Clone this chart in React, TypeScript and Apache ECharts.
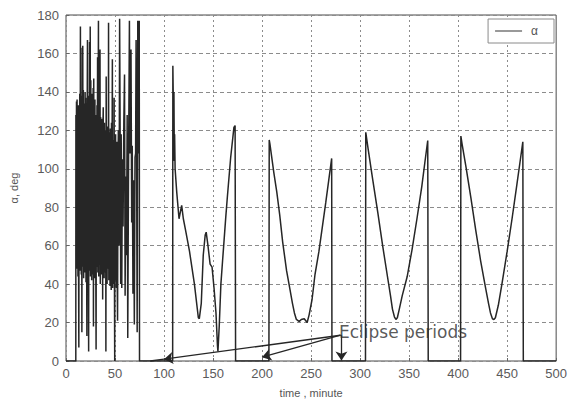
import React, { useEffect, useRef } from "react";
import * as echarts from "echarts";

// Axis ranges / ticks
const xMin = 0;
const xMax = 500;
const xStep = 50;
const yMin = 0;
const yMax = 180;
const yStep = 20;

const seriesName = "α";
const xAxisName = "time , minute";
const yAxisName = "α, deg";
const eclipseLabel = "Eclipse periods";

// Tumbling phase (dense oscillation), [time (min), alpha (deg)]
const alphaTumbling: [number, number][] = [
  [0, 0], [10, 0], [10.1, 128], [10.4, 62], [10.7, 135], [11, 48], [11.3, 136], [11.6, 55], [11.9, 122],
  [12.2, 44], [12.5, 133], [12.8, 52], [13.1, 7], [13.4, 130], [13.7, 58], [14, 139], [14.4, 47],
  [14.7, 174], [15, 52], [15.3, 163], [15.6, 45], [15.9, 138], [16.2, 15], [16.5, 131], [16.8, 56],
  [17.1, 164], [17.4, 49], [17.7, 141], [18, 43], [18.3, 134], [18.6, 57], [18.9, 128], [19.2, 46],
  [19.5, 140], [19.8, 53], [20.1, 137], [20.4, 41], [20.7, 129], [21, 60], [21.3, 13], [21.6, 126],
  [21.9, 167], [22.2, 44], [22.5, 138], [22.8, 52], [23.1, 5], [23.4, 135], [23.7, 47], [24, 166],
  [24.3, 55], [24.7, 174], [25, 44], [25.3, 146], [25.6, 58], [25.9, 132], [26.2, 42], [26.5, 139],
  [26.8, 50], [27.1, 127], [27.4, 45], [27.7, 142], [28, 18], [28.3, 147], [28.6, 50], [28.9, 129],
  [29.2, 43], [29.5, 136], [29.8, 55], [30.1, 124], [30.4, 47], [30.7, 6], [31, 128], [31.3, 49],
  [31.6, 133], [31.9, 52], [32.2, 158], [32.5, 46], [32.8, 131], [33.1, 177], [33.4, 44], [33.7, 125],
  [34, 53], [34.3, 130], [34.7, 162], [35, 40], [35.3, 127], [35.6, 51], [35.9, 121], [36.2, 45],
  [36.5, 126], [36.8, 57], [37.1, 119], [37.4, 32], [37.7, 123], [38, 132], [38.3, 49], [38.6, 118],
  [38.9, 43], [39.2, 124], [39.5, 55], [39.8, 116], [40.1, 46], [40.4, 120], [40.7, 5], [41, 148],
  [41.3, 52], [41.6, 117], [41.9, 40], [42.2, 122], [42.5, 48], [42.8, 113], [43.1, 54], [43.4, 176],
  [43.7, 42], [44, 119], [44.3, 50], [44.6, 112], [44.9, 39], [45.2, 121], [45.5, 53], [45.8, 108],
  [46.1, 37], [46.4, 124], [46.7, 46], [47, 110], [47.3, 157], [47.6, 38], [47.9, 115], [48.2, 44],
  [48.5, 106], [48.8, 40], [49.1, 137], [49.4, 45], [49.7, 0], [50, 112], [50.3, 42], [50.6, 118],
  [50.9, 46], [51.2, 105], [51.5, 38], [51.8, 114], [52.2, 45], [52.6, 21], [53, 98], [53.4, 120],
  [54.1, 60], [54.7, 178], [55.3, 112], [55.8, 40], [56.3, 118], [56.9, 38], [57.5, 105], [58.2, 70],
  [59, 125], [59.7, 149], [60.3, 34], [61, 96], [61.7, 55], [62.4, 128], [63, 12], [63.8, 102],
  [64.7, 177], [65.2, 108], [65.7, 110], [66.3, 162], [67, 72], [67.6, 112], [68.3, 35], [69, 94],
  [69.7, 19], [70.4, 106], [71, 108], [71.5, 167], [72.1, 95], [72.6, 15], [73.2, 177], [73.8, 108],
  [74.3, 110], [74.7, 177], [75, 0],
];

// Controlled phase, [time (min), alpha (deg)]
const alphaControlled: [number, number][] = [
  [108.8, 0], [109, 153.6], [109.8, 122], [110.1, 140], [110.5, 104], [110.8, 118], [111.3, 100],
  [113, 87.6], [115.3, 74], [118, 81], [119.7, 74], [122, 68], [126, 57], [131, 40], [135, 22.5],
  [136, 22], [138, 30], [140, 55], [142, 65.6], [143, 67], [144.7, 60.5], [147, 50.4], [149, 48.8],
  [151, 38], [153, 25], [154.5, 8], [155, 5], [155.5, 10], [156.3, 18], [158, 40], [159.7, 52],
  [163, 75], [164.7, 86], [168, 106], [171.3, 121.5], [172.5, 122.5], [173, 0],
  [207, 0], [207.3, 115], [208, 113], [212, 98], [215, 88], [218, 76], [221, 62], [225, 47],
  [228, 38.6], [231, 30], [233, 25], [235, 21.6], [238, 20.5], [240, 21.6], [243, 22], [246, 20],
  [248, 24], [251, 32], [254, 45], [258, 57], [261, 68], [265, 82.5], [268, 94], [271, 105.4],
  [271.3, 0], [305.5, 0], [305.8, 119], [308, 111], [313, 94], [318, 77.5], [323, 60], [328, 43.7],
  [331, 34], [333, 27], [335, 23], [336.5, 21.6], [338, 22.5], [340, 27], [343, 34], [348, 43.8],
  [353, 58], [358, 74], [363, 91], [366, 103], [369, 114.7], [369.5, 0], [402.5, 0], [402.8, 117],
  [404, 113], [408, 101], [413, 85], [418, 68], [423, 52], [428, 38], [431, 30], [433, 25],
  [435, 22], [436.5, 21.6], [438, 22.5], [441, 29], [445, 41], [450, 57], [455, 74], [460, 92],
  [463, 103], [466, 114], [466.5, 0], [500, 0],
];

// Eclipse annotation: label anchor and arrow targets [time, alpha]
const eclipseAnchor: [number, number] = [280, 13.4];
const eclipseLabelAt: [number, number] = [278.5, 15.2];
const eclipseArrowTargets: [number, number][] = [
  [100, 0.95],
  [200, 2],
  [281, 0.3],
];
const eclipseTail: [number, number] = [86, 0];

const FONT = "'Liberation Sans', Arial, sans-serif";
const INK = "#262626";

export default function App() {
  const ref = useRef<HTMLDivElement>(null);

  useEffect(() => {
    if (!ref.current) return;
    const chart = echarts.init(ref.current, undefined, { renderer: "svg" });

    const arrowLines: any[] = eclipseArrowTargets.map((t, i) => [
      {
        coord: i === 2 ? [t[0], eclipseAnchor[1]] : eclipseAnchor,
        symbol: "none",
      },
      { coord: t, symbol: "arrow" },
    ]);
    arrowLines.push([
      { coord: eclipseArrowTargets[0], symbol: "none" },
      { coord: eclipseTail, symbol: "none" },
    ]);
    arrowLines.push([
      { coord: eclipseAnchor, symbol: "none" },
      { coord: [eclipseArrowTargets[2][0], eclipseAnchor[1]], symbol: "none" },
    ]);

    chart.setOption({
      animation: false,
      backgroundColor: "#ffffff",
      textStyle: { fontFamily: FONT },
      grid: {
        left: 62,
        right: 7,
        top: 15,
        bottom: 34,
        show: true,
        borderColor: "#4a4a4a",
        borderWidth: 1,
        backgroundColor: "transparent",
      },
      legend: {
        data: [{ name: seriesName, icon: "rect" }],
        right: 16,
        top: 19,
        backgroundColor: "#ffffff",
        borderColor: "#8a8a8a",
        borderWidth: 1,
        borderRadius: 0,
        padding: [6, 16, 6, 7],
        itemWidth: 27,
        itemHeight: 1.2,
        itemStyle: { color: "#555" },
        textStyle: { fontSize: 12, color: "#555", fontFamily: FONT, padding: [0, 0, 0, 4] },
      },
      xAxis: {
        type: "value",
        min: xMin,
        max: xMax,
        interval: xStep,
        name: xAxisName,
        nameLocation: "middle",
        nameGap: 26,
        nameTextStyle: { fontSize: 11, color: "#555", fontFamily: FONT },
        axisLine: { show: false },
        axisTick: { show: true, inside: true, length: 3, lineStyle: { color: "#666" } },
        axisLabel: { fontSize: 13, color: "#5a5a5a", margin: 6, fontFamily: FONT },
        splitLine: {
          show: true,
          lineStyle: { color: "#8c8c8c", type: [2, 3], width: 1 },
        },
      },
      yAxis: {
        type: "value",
        min: yMin,
        max: yMax,
        interval: yStep,
        name: yAxisName,
        nameLocation: "middle",
        nameGap: 47,
        nameRotate: 90,
        nameTextStyle: { fontSize: 11, color: "#555", fontFamily: FONT },
        axisLine: { show: false },
        axisTick: { show: true, inside: true, length: 3, lineStyle: { color: "#666" } },
        axisLabel: { fontSize: 13, color: "#5a5a5a", margin: 7, fontFamily: FONT },
        splitLine: {
          show: true,
          lineStyle: { color: "#8c8c8c", type: [4, 3], width: 1 },
        },
      },
      series: [
        {
          name: seriesName,
          type: "line",
          data: [...alphaTumbling, ...alphaControlled],
          symbol: "none",
          showSymbol: false,
          lineStyle: { color: INK, width: 1.5 },
          itemStyle: { color: INK },
          z: 3,
        },
        {
          name: "eclipse",
          type: "line",
          data: [],
          symbol: "none",
          z: 4,
          markLine: {
            silent: true,
            animation: false,
            symbolSize: 9,
            label: { show: false },
            lineStyle: { color: INK, width: 1.3, type: "solid" },
            emphasis: { disabled: true },
            data: arrowLines,
          },
        },
        {
          name: "eclipseText",
          type: "scatter",
          data: [eclipseLabelAt],
          symbolSize: 0,
          silent: true,
          z: 5,
          label: {
            show: true,
            position: "right",
            distance: 0,
            formatter: eclipseLabel,
            fontSize: 17,
            color: "#2e2e2e",
            fontFamily: "'DejaVu Sans', sans-serif",
          },
        },
      ],
    });

    return () => chart.dispose();
  }, []);

  return (
    <div
      ref={ref}
      style={{ position: "fixed", left: 0, top: 0, width: 570, height: 403, background: "#fff" }}
    />
  );
}
